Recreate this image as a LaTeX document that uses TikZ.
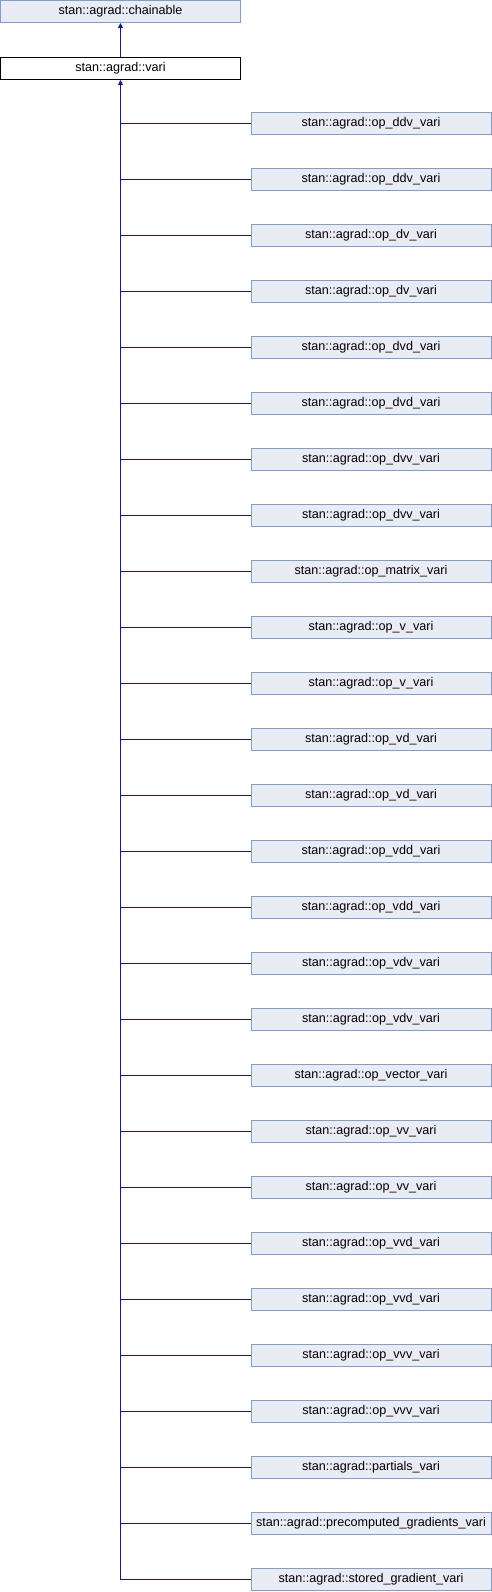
\documentclass[tikz,border=0pt]{standalone}
\usepackage{fontspec}
\setmainfont{Liberation Sans}
\usetikzlibrary{arrows.meta}
\definecolor{edgeblue}{RGB}{25,25,140}
\definecolor{boxfill}{RGB}{232,236,245}
\definecolor{boxdraw}{RGB}{132,155,204}
\tikzset{
  cls/.style={draw=boxdraw, fill=boxfill, line width=1pt, minimum width=240pt, minimum height=22pt, inner sep=0pt, font=\fontsize{12.6}{14}\selectfont},
  mainbox/.style={cls, draw=black, fill=white},
  inh/.style={draw=edgeblue, line width=1pt},
  tip/.style={-{Triangle[width=5pt,length=5pt]}}
}
\begin{document}
\begin{tikzpicture}[x=1pt,y=-1pt]
\useasboundingbox (0,0) rectangle (492,1592);
\node[cls] (chain) at (120.5,11.5) {stan::agrad::chainable};
\node[mainbox] (vari) at (120.5,68.5) {stan::agrad::vari};
\draw[inh,tip] (vari.north) -- (chain.south);
\foreach \name [count=\i from 0] in {op\_ddv\_vari,op\_ddv\_vari,op\_dv\_vari,op\_dv\_vari,op\_dvd\_vari,op\_dvd\_vari,op\_dvv\_vari,op\_dvv\_vari,op\_matrix\_vari,op\_v\_vari,op\_v\_vari,op\_vd\_vari,op\_vd\_vari,op\_vdd\_vari,op\_vdd\_vari,op\_vdv\_vari,op\_vdv\_vari,op\_vector\_vari,op\_vv\_vari,op\_vv\_vari,op\_vvd\_vari,op\_vvd\_vari,op\_vvv\_vari,op\_vvv\_vari,partials\_vari,precomputed\_gradients\_vari,stored\_gradient\_vari}{
  \node[cls] (c\i) at (371,123.5+56*\i) {stan::agrad::\name};
  \coordinate (j\i) at (120.5,123.5+56*\i);
  \draw[inh] (c\i.west) -- (j\i);
}
\draw[inh,tip] (j26) -- (vari.south);
\end{tikzpicture}
\end{document}
